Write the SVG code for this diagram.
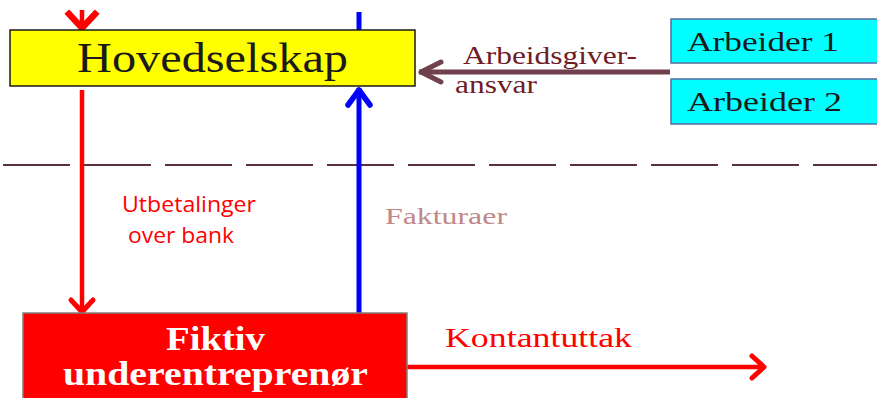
<svg xmlns="http://www.w3.org/2000/svg" width="877" height="398" viewBox="0 0 877 398">
<style>
.serif{font-family:"Liberation Serif","Times New Roman",serif}
.sans{font-family:"Open Sans","Liberation Sans",sans-serif}
.conn{fill:none;stroke-linecap:butt}
</style>
<defs>
<marker id="hRed" markerUnits="userSpaceOnUse" markerWidth="40" markerHeight="40" viewBox="-20 -20 40 40" refX="0" refY="0" orient="auto" overflow="visible">
<path d="M-13,-11 L-1,0 L-13,11" fill="none" stroke="#ff0000" stroke-width="5" stroke-linecap="round" stroke-linejoin="round"/>
</marker>
<marker id="hRedBig" markerUnits="userSpaceOnUse" markerWidth="40" markerHeight="40" viewBox="-20 -20 40 40" refX="0" refY="0" orient="auto" overflow="visible">
<path d="M-16,-13 L-2,0 L-16,13" fill="none" stroke="#ff0000" stroke-width="6.5" stroke-linecap="square" stroke-linejoin="miter"/>
</marker>
<marker id="hBlue" markerUnits="userSpaceOnUse" markerWidth="40" markerHeight="40" viewBox="-20 -20 40 40" refX="0" refY="0" orient="auto" overflow="visible">
<path d="M-17,-11 L-2,0 L-17,11" fill="none" stroke="#0000ff" stroke-width="5.5" stroke-linecap="round" stroke-linejoin="round"/>
</marker>
<marker id="hBrown" markerUnits="userSpaceOnUse" markerWidth="40" markerHeight="40" viewBox="-20 -20 40 40" refX="0" refY="0" orient="auto" overflow="visible">
<path d="M-22,-10 L-2,0 L-22,10" fill="none" stroke="#70404c" stroke-width="5" stroke-linecap="round" stroke-linejoin="round"/>
</marker>
</defs>
<rect width="877" height="398" fill="#ffffff"/>

<g id="separator">
<line x1="3" y1="165" x2="877" y2="165" stroke="#5a3040" stroke-width="2" stroke-dasharray="67 14"/>
</g>

<g id="connectors">
<line class="conn" x1="82" y1="10" x2="82" y2="30" stroke="#ff0000" stroke-width="4.5" marker-end="url(#hRedBig)"/>
<line class="conn" x1="359" y1="12" x2="359" y2="30" stroke="#0000ff" stroke-width="5"/>
<line class="conn" x1="82" y1="90" x2="82" y2="313" stroke="#ff0000" stroke-width="4.5" marker-end="url(#hRed)"/>
<line class="conn" x1="359" y1="313" x2="359" y2="88" stroke="#0000ff" stroke-width="5" marker-end="url(#hBlue)"/>
<line class="conn" x1="670" y1="72" x2="419" y2="72" stroke="#70404c" stroke-width="5" marker-end="url(#hBrown)"/>
<line class="conn" x1="407" y1="367" x2="765" y2="367" stroke="#ff0000" stroke-width="4.5" marker-end="url(#hRed)"/>
</g>

<g id="hovedselskap">
<rect x="10" y="30" width="405" height="56" fill="#ffff00" stroke="#1a1a1a" stroke-width="1.5"/>
<text class="serif" x="212.5" y="72" font-size="43" fill="#1a1a1a" text-anchor="middle" textLength="271" lengthAdjust="spacingAndGlyphs">Hovedselskap</text>
</g>

<g id="arbeider1">
<rect x="671" y="19" width="210" height="44" fill="#00ffff" stroke="#5a6aa0" stroke-width="1.5"/>
<text class="serif" x="687" y="51" font-size="28" fill="#1a1a1a" textLength="152" lengthAdjust="spacingAndGlyphs">Arbeider 1</text>
</g>

<g id="arbeider2">
<rect x="671" y="79" width="210" height="45" fill="#00ffff" stroke="#5a6aa0" stroke-width="1.5"/>
<text class="serif" x="687" y="111" font-size="28" fill="#1a1a1a" textLength="155" lengthAdjust="spacingAndGlyphs">Arbeider 2</text>
</g>

<g id="fiktiv">
<rect x="23" y="313" width="384" height="95" fill="#ff0000" stroke="#7f7f7f" stroke-width="1.5"/>
<text class="serif" x="215.5" y="350" font-size="34" font-weight="bold" fill="#ffffff" text-anchor="middle" textLength="99" lengthAdjust="spacingAndGlyphs">Fiktiv</text>
<text class="serif" x="215.5" y="385" font-size="34" font-weight="bold" fill="#ffffff" text-anchor="middle" textLength="305" lengthAdjust="spacingAndGlyphs">underentreprenør</text>
</g>

<g id="labels">
<text class="serif" x="463" y="64" font-size="25" fill="#701c24" textLength="174" lengthAdjust="spacingAndGlyphs">Arbeidsgiver-</text>
<text class="serif" x="455" y="93" font-size="25" fill="#701c24" textLength="82" lengthAdjust="spacingAndGlyphs">ansvar</text>
<text class="sans" x="122" y="212" font-size="22" fill="#ff0000" textLength="134" lengthAdjust="spacingAndGlyphs">Utbetalinger</text>
<text class="sans" x="128" y="243" font-size="22" fill="#ff0000" textLength="106" lengthAdjust="spacingAndGlyphs">over bank</text>
<text class="serif" x="385" y="224" font-size="24" fill="#c08888" textLength="122" lengthAdjust="spacingAndGlyphs">Fakturaer</text>
<text class="serif" x="445" y="347" font-size="28" fill="#ff0000" textLength="187" lengthAdjust="spacingAndGlyphs">Kontantuttak</text>
</g>
</svg>
